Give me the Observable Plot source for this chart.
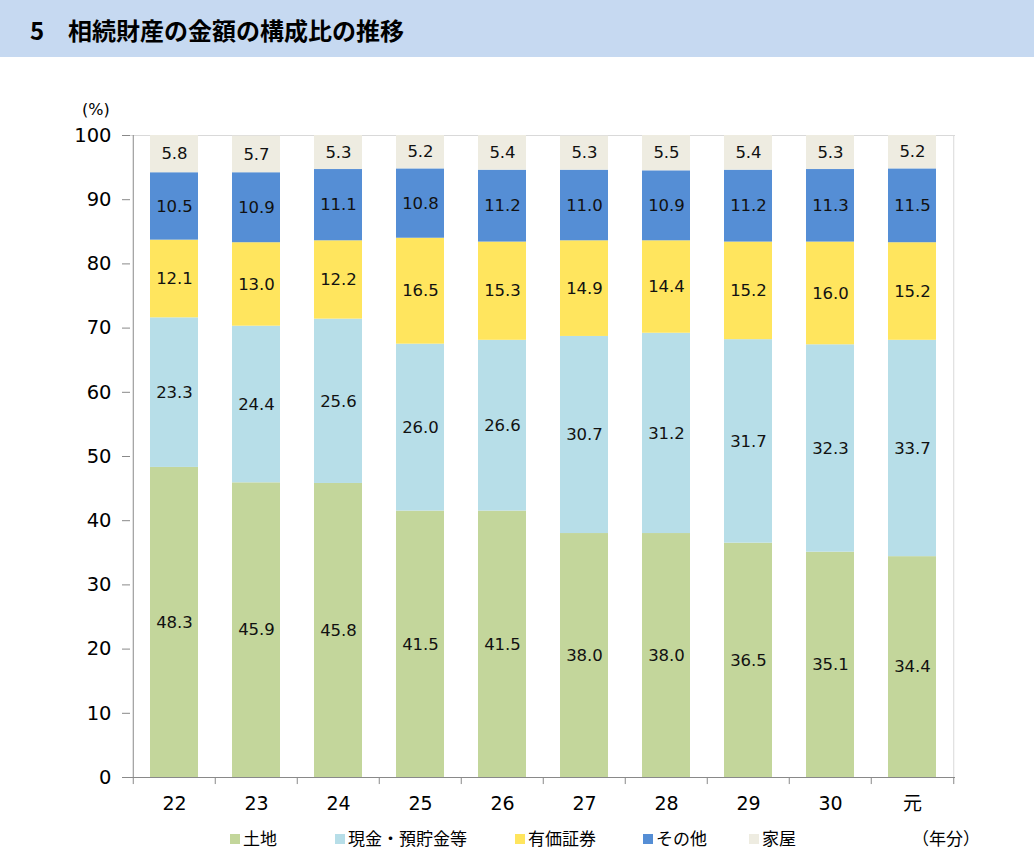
<!DOCTYPE html>
<html>
<head>
<meta charset="utf-8">
<script src="https://cdn.jsdelivr.net/npm/d3@7"></script>
<script src="https://cdn.jsdelivr.net/npm/@observablehq/plot@0.6"></script>
<style>
  body { margin: 0; background: #fff; }
  #wrap { position: relative; width: 1034px; height: 853px; overflow: hidden; font-family: "Noto Sans CJK JP", "DejaVu Sans", sans-serif; }
  #title { position: absolute; left: 0; top: 0; width: 1034px; height: 57px; background: #C6D9F1; }
  #title span { position: absolute; top: 18px; font-size: 24px; font-weight: bold; color: #000; line-height: 1; }
  #chart { position: absolute; left: 0; top: 57px; }
  #unit { position: absolute; left: 82px; top: 100px; font-family: "DejaVu Sans", sans-serif; font-size: 16px; color: #000; }
  .leg { position: absolute; top: 827px; font-size: 17px; color: #000; line-height: 22px; white-space: nowrap; }
  .leg i { display: inline-block; width: 10px; height: 10px; margin-right: 3px; vertical-align: 1px; }
</style>
</head>
<body>
<div id="wrap">
  <div id="title"><span style="left:30px">5</span><span style="left:68px">相続財産の金額の構成比の推移</span></div>
  <div id="unit">(%)</div>
  <div id="chart"></div>
  <div id="legend"></div>
</div>
<script>
const years = ["22", "23", "24", "25", "26", "27", "28", "29", "30", "元"];
const seriesNames = ["土地", "現金・預貯金等", "有価証券", "その他", "家屋"];
const land       = [48.3, 45.9, 45.8, 41.5, 41.5, 38.0, 38.0, 36.5, 35.1, 34.4];
const cash       = [23.3, 24.4, 25.6, 26.0, 26.6, 30.7, 31.2, 31.7, 32.3, 33.7];
const securities = [12.1, 13.0, 12.2, 16.5, 15.3, 14.9, 14.4, 15.2, 16.0, 15.2];
const other      = [10.5, 10.9, 11.1, 10.8, 11.2, 11.0, 10.9, 11.2, 11.3, 11.5];
const house      = [5.8, 5.7, 5.3, 5.2, 5.4, 5.3, 5.5, 5.4, 5.3, 5.2];
const colors = ["#C3D69B", "#B7DEE8", "#FFE55E", "#558ED5", "#EEECE1"];
const yTicks = [0, 10, 20, 30, 40, 50, 60, 70, 80, 90, 100];

const seriesValues = [land, cash, securities, other, house];
const rows = [];
years.forEach((yr, i) => {
  seriesNames.forEach((s, k) => rows.push({year: yr, series: s, value: seriesValues[k][i]}));
});

const W = 1034, mL = 130, mR = 79;
const step = (W - mL - mR) / years.length;
const axisGray = "#898989", frameGray = "#D9D9D9";

const chart = Plot.plot({
  width: W,
  height: 770,
  marginLeft: mL,
  marginRight: mR,
  marginTop: 78,
  marginBottom: 50,
  style: {fontFamily: "DejaVu Sans, sans-serif", background: "transparent"},
  x: {domain: years, paddingInner: 0.42, paddingOuter: 0.19, axis: null, label: null},
  y: {domain: [0, 100], axis: null, label: null},
  color: {domain: seriesNames, range: colors},
  marks: [
    Plot.ruleY([100], {stroke: frameGray}),
    Plot.ruleX([years[years.length - 1]], {y1: 0, y2: 100, dx: step / 2, stroke: frameGray}),
    Plot.barY(rows, {x: "year", y: "value", z: "series", fill: "series", order: seriesNames}),
    Plot.text(rows, Plot.stackY({x: "year", y: "value", z: "series", order: seriesNames,
      text: d => d.value.toFixed(1), fill: "#111", fontSize: 16.5})),
    Plot.ruleY([0], {stroke: axisGray}),
    Plot.ruleX([years[0]], {y1: 0, y2: 100, dx: -step / 2, stroke: axisGray}),
    Plot.ruleX(years, {y1: 0, y2: -1.1, dx: -step / 2, stroke: axisGray}),
    Plot.ruleX([years[years.length - 1]], {y1: 0, y2: -1.1, dx: step / 2, stroke: axisGray}),
    Plot.axisY({ticks: yTicks, tickSize: 8, tickPadding: 11, stroke: axisGray, fill: "#000", fontSize: 19.5,
      label: null, tickFormat: d => String(d)}),
    Plot.axisX({tickSize: 0, tickPadding: 19, fill: "#000", fontSize: 19, label: null,
      fontFamily: "DejaVu Sans, Noto Sans CJK JP, sans-serif"})
  ]
});
document.getElementById("chart").appendChild(chart);

const legendX = [230, 335, 515, 643, 749];
const legend = document.getElementById("legend");
seriesNames.forEach((s, k) => {
  const d = document.createElement("div");
  d.className = "leg";
  d.style.left = legendX[k] + "px";
  d.innerHTML = `<i style="background:${colors[k]}"></i>${s}`;
  legend.appendChild(d);
});
const unit = document.createElement("div");
unit.className = "leg";
unit.style.left = "912px";
unit.textContent = "（年分）";
legend.appendChild(unit);
</script>
</body>
</html>
